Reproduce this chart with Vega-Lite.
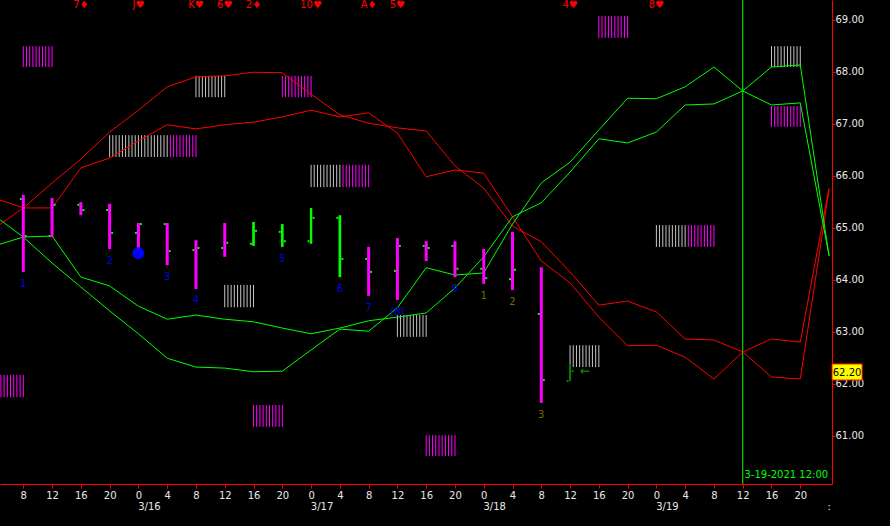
{"$schema":"https://vega.github.io/schema/vega-lite/v6.json","width":832,"height":484,"autosize":{"type":"none"},"padding":{"left":0,"top":0,"right":58,"bottom":42},"background":"#000000","config":{"view":{"stroke":null},"axis":{"labelFont":"DejaVu Sans","labelFontSize":10,"labelColor":"#e8e8e8","grid":false,"title":null}},"datasets":{"lines":[{"h":-20,"ru":64.99,"rl":65.57,"gl":65.23,"gt":64.65},{"h":-16,"ru":65.38,"rl":65.38,"gl":64.82,"gt":64.82},{"h":-12,"ru":65.86,"rl":65.38,"gl":64.32,"gt":64.84},{"h":-8,"ru":66.32,"rl":66.15,"gl":63.86,"gt":64.05},{"h":-4,"ru":66.84,"rl":66.34,"gl":63.4,"gt":63.88},{"h":0,"ru":67.26,"rl":66.67,"gl":62.96,"gt":63.49},{"h":4,"ru":67.71,"rl":66.98,"gl":62.49,"gt":63.24},{"h":8,"ru":67.9,"rl":66.9,"gl":62.32,"gt":63.32},{"h":12,"ru":67.92,"rl":66.98,"gl":62.3,"gt":63.24},{"h":16,"ru":67.99,"rl":67.03,"gl":62.23,"gt":63.19},{"h":20,"ru":67.98,"rl":67.13,"gl":62.24,"gt":63.07},{"h":24,"ru":67.57,"rl":67.26,"gl":62.65,"gt":62.96},{"h":28,"ru":67.17,"rl":67.13,"gl":63.05,"gt":63.07},{"h":32,"ru":67.01,"rl":67.21,"gl":63.01,"gt":63.21},{"h":36,"ru":66.92,"rl":66.82,"gl":63.46,"gt":63.28},{"h":40,"ru":66.86,"rl":65.98,"gl":64.23,"gt":63.36},{"h":44,"ru":66.19,"rl":66.11,"gl":64.09,"gt":63.84},{"h":48,"ru":65.76,"rl":66.05,"gl":64.13,"gt":64.44},{"h":52,"ru":65.03,"rl":65.21,"gl":65.07,"gt":65.21},{"h":56,"ru":64.73,"rl":64.36,"gl":65.86,"gt":65.48},{"h":60,"ru":64.15,"rl":63.94,"gl":66.26,"gt":66.07},{"h":64,"ru":63.51,"rl":63.28,"gl":66.88,"gt":66.71},{"h":68,"ru":63.59,"rl":62.73,"gl":67.49,"gt":66.63},{"h":72,"ru":63.38,"rl":62.74,"gl":67.48,"gt":66.84},{"h":76,"ru":62.86,"rl":62.51,"gl":67.71,"gt":67.36},{"h":80,"ru":62.84,"rl":62.09,"gl":68.09,"gt":67.38},{"h":84,"ru":62.61,"rl":62.61,"gl":67.63,"gt":67.63},{"h":88,"ru":62.13,"rl":62.86,"gl":67.36,"gt":68.09},{"h":92,"ru":62.09,"rl":62.8,"gl":67.4,"gt":68.13},{"h":96,"ru":65.73,"rl":65.76,"gl":64.46,"gt":64.46}],"bars":[{"h":-16,"high":65.63,"low":64.15,"open":65.55,"close":64.84,"kind":"down"},{"h":-12,"high":65.57,"low":64.82,"open":64.84,"close":65.44,"kind":"down"},{"h":-8,"high":65.49,"low":65.24,"open":65.44,"close":65.34,"kind":"down"},{"h":-4,"high":65.46,"low":64.59,"open":65.34,"close":64.9,"kind":"down"},{"h":0,"high":65.09,"low":64.46,"open":64.9,"close":65.07,"kind":"down"},{"h":4,"high":65.09,"low":64.28,"open":65.07,"close":64.55,"kind":"down"},{"h":8,"high":64.76,"low":63.82,"open":64.57,"close":64.61,"kind":"down"},{"h":12,"high":65.09,"low":64.44,"open":64.61,"close":64.71,"kind":"down"},{"h":16,"high":65.11,"low":64.65,"open":64.69,"close":64.94,"kind":"up"},{"h":20,"high":65.07,"low":64.63,"open":64.92,"close":64.74,"kind":"up"},{"h":24,"high":65.38,"low":64.69,"open":64.74,"close":65.19,"kind":"upthick"},{"h":28,"high":65.24,"low":64.05,"open":65.19,"close":64.4,"kind":"up"},{"h":32,"high":64.63,"low":63.69,"open":64.4,"close":64.15,"kind":"down"},{"h":36,"high":64.8,"low":63.61,"open":64.17,"close":64.65,"kind":"down"},{"h":40,"high":64.74,"low":64.36,"open":64.65,"close":64.61,"kind":"down"},{"h":44,"high":64.74,"low":64.05,"open":64.65,"close":64.21,"kind":"down"},{"h":48,"high":64.59,"low":63.92,"open":64.21,"close":64.03,"kind":"down"},{"h":52,"high":64.92,"low":63.8,"open":64.01,"close":64.19,"kind":"down"},{"h":56,"high":64.24,"low":61.63,"open":63.34,"close":62.07,"kind":"down"},{"h":60,"high":62.38,"low":62.05,"open":62.05,"close":62.24,"kind":"signal"}],"stripes":[{"c":"magenta","top":68.49,"bottom":68.09,"hs":[-16,-15.56,-15.11,-14.67,-14.22,-13.78,-13.33,-12.89,-12.44,-12]},{"c":"grey","top":67.92,"bottom":67.51,"hs":[8,8.44,8.89,9.33,9.78,10.22,10.67,11.11,11.56,12]},{"c":"magenta","top":67.92,"bottom":67.51,"hs":[20,20.44,20.89,21.33,21.78,22.22,22.67,23.11,23.56,24]},{"c":"grey","top":66.78,"bottom":66.36,"hs":[-4,-3.56,-3.11,-2.67,-2.22,-1.78,-1.33,-0.89,-0.44,0,0.44,0.89,1.33,1.78,2.22,2.67,3.11,3.56,4]},{"c":"magenta","top":66.78,"bottom":66.36,"hs":[4.44,4.89,5.33,5.78,6.22,6.67,7.11,7.56,8]},{"c":"grey","top":66.21,"bottom":65.78,"hs":[24,24.44,24.89,25.33,25.78,26.22,26.67,27.11,27.56,28]},{"c":"magenta","top":66.21,"bottom":65.78,"hs":[28.44,28.89,29.33,29.78,30.22,30.67,31.11,31.56,32]},{"c":"grey","top":63.9,"bottom":63.47,"hs":[12,12.44,12.89,13.33,13.78,14.22,14.67,15.11,15.56,16]},{"c":"grey","top":63.32,"bottom":62.9,"hs":[36,36.44,36.89,37.33,37.78,38.22,38.67,39.11,39.56,40]},{"c":"magenta","top":62.17,"bottom":61.74,"hs":[-19.11,-18.67,-18.22,-17.78,-17.33,-16.89,-16.44,-16]},{"c":"magenta","top":61.59,"bottom":61.17,"hs":[16,16.44,16.89,17.33,17.78,18.22,18.67,19.11,19.56,20]},{"c":"magenta","top":61.01,"bottom":60.61,"hs":[40,40.44,40.89,41.33,41.78,42.22,42.67,43.11,43.56,44]},{"c":"grey","top":62.74,"bottom":62.32,"hs":[60,60.44,60.89,61.33,61.78,62.22,62.67,63.11,63.56,64]},{"c":"magenta","top":69.07,"bottom":68.65,"hs":[64,64.44,64.89,65.33,65.78,66.22,66.67,67.11,67.56,68]},{"c":"grey","top":65.05,"bottom":64.63,"hs":[72,72.44,72.89,73.33,73.78,74.22,74.67,75.11,75.56,76]},{"c":"magenta","top":65.05,"bottom":64.63,"hs":[76.44,76.89,77.33,77.78,78.22,78.67,79.11,79.56,80]},{"c":"grey","top":68.49,"bottom":68.09,"hs":[88,88.44,88.89,89.33,89.78,90.22,90.67,91.11,91.56,92]},{"c":"magenta","top":67.34,"bottom":66.94,"hs":[88,88.44,88.89,89.33,89.78,90.22,90.67,91.11,91.56,92]}]},"layer":[{"data":{"name":"stripes"},"transform":[{"flatten":["hs"]}],"mark":{"type":"rule","strokeWidth":1},"encoding":{"x":{"field":"hs","type":"quantitative","scale":{"domain":[-19.24,96.41],"nice":false,"zero":false},"axis":{"orient":"bottom","values":[-16,-12,-8,-4,0,4,8,12,16,20,24,28,32,36,40,44,48,52,56,60,64,68,72,76,80,84,88,92],"labelExpr":"(datum.value+24)%24","domainColor":"#ff0000","domainWidth":1,"tickColor":"#ff0000","tickSize":4,"labelPadding":2,"labelOverlap":false,"labelFlush":false}},"y":{"field":"bottom","type":"quantitative","scale":{"domain":[60.071,69.379],"nice":false,"zero":false},"axis":{"orient":"right","values":[61,62,63,64,65,66,67,68,69],"format":".2f","domainColor":"#ff0000","domainWidth":1,"tickColor":"#ff0000","tickSize":3,"labelPadding":0,"labelOverlap":false,"labelFlush":false}},"y2":{"field":"top"},"color":{"field":"c","type":"nominal","scale":{"domain":["magenta","grey"],"range":["#ff00ff","#c4c4c4"]},"legend":null}}},{"data":{"values":[{"h":84}]},"mark":{"type":"rule","color":"#00ff00","strokeWidth":1},"encoding":{"x":{"field":"h","type":"quantitative","scale":{"domain":[-19.24,96.41],"nice":false,"zero":false},"axis":{"orient":"bottom","values":[0,24,48,72,94.5],"labelExpr":"datum.value==0?'3/16':datum.value==24?'3/17':datum.value==48?'3/18':datum.value==72?'3/19':':'","labelOffset":10.5,"domain":false,"ticks":false,"labelPadding":17,"labelOverlap":false,"labelFlush":false}}}},{"data":{"name":"lines"},"mark":{"type":"line","color":"#ff0000","strokeWidth":1,"clip":true},"encoding":{"x":{"field":"h","type":"quantitative","scale":{"domain":[-19.24,96.41],"nice":false,"zero":false},"axis":null},"y":{"field":"ru","type":"quantitative","axis":null}}},{"data":{"name":"lines"},"mark":{"type":"line","color":"#ff0000","strokeWidth":1,"clip":true},"encoding":{"x":{"field":"h","type":"quantitative","axis":null},"y":{"field":"rl","type":"quantitative","axis":null}}},{"data":{"name":"lines"},"mark":{"type":"line","color":"#00ff00","strokeWidth":1,"clip":true},"encoding":{"x":{"field":"h","type":"quantitative","axis":null},"y":{"field":"gl","type":"quantitative","axis":null}}},{"data":{"name":"lines"},"mark":{"type":"line","color":"#00ff00","strokeWidth":1,"clip":true},"encoding":{"x":{"field":"h","type":"quantitative","axis":null},"y":{"field":"gt","type":"quantitative","axis":null}}},{"data":{"name":"bars"},"mark":{"type":"square","size":4,"filled":true,"opacity":1,"xOffset":-2.5},"encoding":{"x":{"field":"h","type":"quantitative","axis":null},"y":{"field":"open","type":"quantitative","axis":null},"color":{"condition":{"test":"datum.kind=='signal'","value":"#008000"},"value":"#00ff00"}}},{"data":{"name":"bars"},"mark":{"type":"square","size":4,"filled":true,"opacity":1,"xOffset":2.5},"encoding":{"x":{"field":"h","type":"quantitative","axis":null},"y":{"field":"close","type":"quantitative","axis":null},"color":{"condition":{"test":"datum.kind=='signal'","value":"#008000"},"value":"#00ff00"}}},{"data":{"name":"bars"},"mark":{"type":"rule"},"encoding":{"x":{"field":"h","type":"quantitative","axis":null},"y":{"field":"low","type":"quantitative","axis":null},"y2":{"field":"high"},"color":{"field":"kind","type":"nominal","scale":{"domain":["down","up","upthick","signal"],"range":["#ff00ff","#00ff00","#00ff00","#008000"]},"legend":null},"strokeWidth":{"field":"kind","type":"nominal","scale":{"domain":["down","up","upthick","signal"],"range":[3,2,3,2]},"legend":null}}},{"data":{"values":[{"h":0,"v":64.51}]},"mark":{"type":"point","shape":"circle","filled":true,"size":141,"opacity":1,"color":"#0000ff"},"encoding":{"x":{"field":"h","type":"quantitative","axis":null},"y":{"field":"v","type":"quantitative","axis":null}}},{"data":{"values":[{"h":-16,"v":63.92,"t":"1","c":"blue"},{"h":-4,"v":64.36,"t":"2","c":"blue"},{"h":4,"v":64.05,"t":"3","c":"blue"},{"h":8,"v":63.61,"t":"4","c":"blue"},{"h":20,"v":64.4,"t":"5","c":"blue"},{"h":28,"v":63.82,"t":"6","c":"blue"},{"h":32,"v":63.46,"t":"7","c":"blue"},{"h":36,"v":63.38,"t":"(8)","c":"blue"},{"h":44,"v":63.82,"t":"9","c":"blue"},{"h":48,"v":63.69,"t":"1","c":"olive"},{"h":52,"v":63.57,"t":"2","c":"olive"},{"h":56,"v":61.4,"t":"3","c":"olive"}]},"mark":{"type":"text","font":"DejaVu Sans","fontSize":10,"baseline":"middle"},"encoding":{"x":{"field":"h","type":"quantitative","axis":null},"y":{"field":"v","type":"quantitative","axis":null},"text":{"field":"t"},"color":{"field":"c","type":"nominal","scale":{"domain":["blue","olive"],"range":["#0000e6","#6e6e00"]},"legend":null}}},{"data":{"values":[{"h":-8,"v":69.379,"t":"7♦"},{"h":0,"v":69.379,"t":"J♥"},{"h":8,"v":69.379,"t":"K♥"},{"h":12,"v":69.379,"t":"6♥"},{"h":16,"v":69.379,"t":"2♦"},{"h":24,"v":69.379,"t":"10♥"},{"h":32,"v":69.379,"t":"A♦"},{"h":36,"v":69.379,"t":"5♥"},{"h":60,"v":69.379,"t":"4♥"},{"h":72,"v":69.379,"t":"8♥"}]},"mark":{"type":"text","font":"DejaVu Sans","fontSize":10,"color":"#ff0000","baseline":"top"},"encoding":{"x":{"field":"h","type":"quantitative","axis":null},"y":{"field":"v","type":"quantitative","axis":null},"text":{"field":"t"}}},{"data":{"values":[{"h":62.08,"v":62.24,"t":"←"}]},"mark":{"type":"text","font":"DejaVu Sans","fontSize":12,"fontWeight":"bold","color":"#008000","baseline":"middle"},"encoding":{"x":{"field":"h","type":"quantitative","axis":null},"y":{"field":"v","type":"quantitative","axis":null},"text":{"field":"t"}}},{"data":{"values":[{"h":84.1,"v":60.24,"t":"3-19-2021 12:00"}]},"mark":{"type":"text","font":"DejaVu Sans","fontSize":10,"color":"#00ff00","align":"left","baseline":"middle","dx":1},"encoding":{"x":{"field":"h","type":"quantitative","axis":null},"y":{"field":"v","type":"quantitative","axis":null},"text":{"field":"t"}}},{"data":{"values":[{"h":96.41,"h2":100.6,"top":62.38,"bottom":62.07}]},"mark":{"type":"rect","fill":"#ffff00","stroke":"#ff0000","strokeWidth":1},"encoding":{"x":{"field":"h","type":"quantitative","axis":null},"x2":{"field":"h2"},"y":{"field":"bottom","type":"quantitative","axis":null},"y2":{"field":"top"}}},{"data":{"values":[{"h":98.5,"v":62.2,"t":"62.20"}]},"mark":{"type":"text","font":"DejaVu Sans","fontSize":10,"color":"#000000","baseline":"middle"},"encoding":{"x":{"field":"h","type":"quantitative","axis":null},"y":{"field":"v","type":"quantitative","axis":null},"text":{"field":"t"}}}],"resolve":{"axis":{"x":"independent","y":"independent"},"scale":{"x":"shared","y":"shared","color":"independent","strokeWidth":"independent"}}}
